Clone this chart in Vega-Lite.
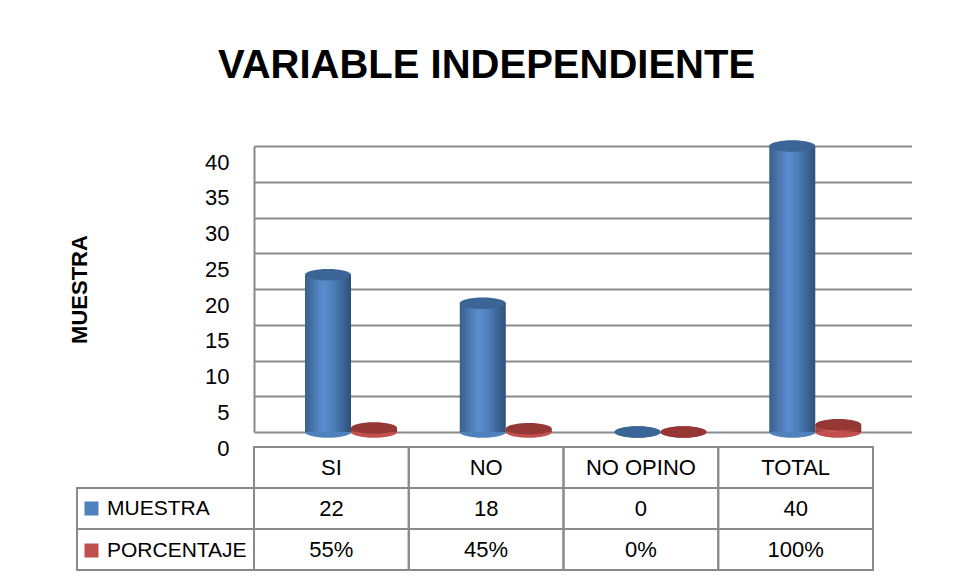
{
  "$schema": "https://vega.github.io/schema/vega-lite/v6.json",
  "autosize": {"type": "pad"},
  "padding": {"left": 68, "top": 46, "right": 0, "bottom": 0},
  "background": "white",
  "config": {
    "view": {"stroke": null},
    "font": "Liberation Sans"
  },
  "datasets": {
    "tabla": [
      {"categoria": "SI", "serie": "MUESTRA", "valor": 22},
      {"categoria": "SI", "serie": "PORCENTAJE", "valor": 0.55},
      {"categoria": "NO", "serie": "MUESTRA", "valor": 18},
      {"categoria": "NO", "serie": "PORCENTAJE", "valor": 0.45},
      {"categoria": "NO OPINO", "serie": "MUESTRA", "valor": 0},
      {"categoria": "NO OPINO", "serie": "PORCENTAJE", "valor": 0},
      {"categoria": "TOTAL", "serie": "MUESTRA", "valor": 40},
      {"categoria": "TOTAL", "serie": "PORCENTAJE", "valor": 1}
    ]
  },
  "columns": 2,
  "bounds": "flush",
  "spacing": {"row": 15, "column": 0},
  "concat": [
    {
      "width": 177,
      "height": 286,
      "data": {"values": [{}]},
      "mark": {"type": "text"},
      "encoding": {"text": {"value": ""}}
    },
    {
      "width": 658,
      "height": 286,
      "title": {
        "text": "VARIABLE INDEPENDIENTE",
        "font": "Liberation Sans",
        "fontSize": 40,
        "fontWeight": "bold",
        "color": "#000000",
        "anchor": "start",
        "frame": "group",
        "baseline": "alphabetic",
        "offset": 22,
        "dx": -36
      },
      "data": {"name": "tabla"},
      "encoding": {
        "x": {
          "field": "categoria",
          "type": "nominal",
          "sort": ["SI", "NO", "NO OPINO", "TOTAL"],
          "scale": {"paddingInner": 0, "paddingOuter": 0.126, "align": 0},
          "axis": null
        },
        "xOffset": {
          "field": "serie",
          "type": "nominal",
          "scale": {"domain": ["MUESTRA", "PORCENTAJE"], "paddingInner": 0, "paddingOuter": 0.682, "align": 0.813}
        },
        "y": {
          "field": "valor",
          "type": "quantitative",
          "scale": {"domain": [0, 40], "nice": false},
          "axis": {
            "values": [0, 5, 10, 15, 20, 25, 30, 35, 40],
            "title": "MUESTRA",
            "titleFontSize": 22,
            "titleFontWeight": "bold",
            "titleColor": "#000000",
            "titlePadding": 113,
            "labelFontSize": 22,
            "labelColor": "#000000",
            "labelPadding": 25,
            "labelOffset": 16,
            "ticks": false,
            "tickSize": 0,
            "domain": true,
            "domainColor": "#8a8a8a",
            "domainWidth": 2,
            "grid": true,
            "gridColor": "#8a8a8a",
            "gridWidth": 2
          }
        }
      },
      "layer": [
        {
          "mark": {"type": "point", "filled": true, "opacity": 1, "strokeWidth": 0, "size": 2116, "shape": "M-1,0A1,0.25,0,1,1,1,0A1,0.25,0,1,1,-1,0Z"},
          "encoding": {
            "y": {"datum": 0},
            "color": {
              "field": "serie",
              "type": "nominal",
              "scale": {"domain": ["MUESTRA", "PORCENTAJE"], "range": ["#4F81BD", "#C0504D"]},
              "legend": {
                "orient": "none",
                "legendX": 4,
                "legendY": 352,
                "title": null,
                "symbolType": "square",
                "symbolSize": 196,
                "symbolStrokeWidth": 0,
                "labelFontSize": 21,
                "labelColor": "#000000",
                "labelOffset": 5,
                "rowPadding": 20,
                "padding": 0
              }
            }
          }
        },
        {
          "transform": [{"filter": "datum.serie == 'MUESTRA'"}],
          "mark": {
            "type": "bar",
            "color": {
              "gradient": "linear", "x1": 0, "x2": 1, "y1": 0, "y2": 0,
              "stops": [
                {"offset": 0, "color": "#3A5F8D"},
                {"offset": 0.4, "color": "#5A8DCE"},
                {"offset": 0.6, "color": "#4F81BD"},
                {"offset": 1, "color": "#2F4F7A"}
              ]
            }
          }
        },
        {
          "transform": [{"filter": "datum.serie == 'PORCENTAJE'"}],
          "mark": {
            "type": "bar",
            "color": {
              "gradient": "linear", "x1": 0, "x2": 1, "y1": 0, "y2": 0,
              "stops": [
                {"offset": 0, "color": "#A43E3B"},
                {"offset": 0.4, "color": "#D65E5A"},
                {"offset": 1, "color": "#8E3230"}
              ]
            }
          }
        },
        {
          "transform": [{"filter": "datum.serie == 'MUESTRA'"}],
          "mark": {"type": "point", "filled": true, "opacity": 1, "strokeWidth": 0, "size": 2116, "color": "#3A6596", "shape": "M-1,0A1,0.25,0,1,1,1,0A1,0.25,0,1,1,-1,0Z"}
        },
        {
          "transform": [{"filter": "datum.serie == 'PORCENTAJE'"}],
          "mark": {"type": "point", "filled": true, "opacity": 1, "strokeWidth": 0, "size": 2116, "color": "#953735", "shape": "M-1,0A1,0.25,0,1,1,1,0A1,0.25,0,1,1,-1,0Z"}
        }
      ]
    },
    {
      "width": 177,
      "height": 123,
      "data": {"name": "tabla"},
      "transform": [{"filter": "datum.categoria == 'SI'"}],
      "mark": {"type": "bar", "fill": "white", "fillOpacity": 0, "stroke": "#8a8a8a", "strokeWidth": 2},
      "encoding": {
        "y": {
          "field": "serie",
          "type": "nominal",
          "scale": {"domain": ["header", "MUESTRA", "PORCENTAJE"], "paddingInner": 0, "paddingOuter": 0},
          "axis": null
        }
      }
    },
    {
      "width": 619,
      "height": 123,
      "data": {"name": "tabla"},
      "transform": [
        {"calculate": "datum.serie == 'PORCENTAJE' ? format(datum.valor, '.0%') : format(datum.valor, 'd')", "as": "texto"}
      ],
      "encoding": {
        "x": {
          "field": "categoria",
          "type": "nominal",
          "sort": ["SI", "NO", "NO OPINO", "TOTAL"],
          "scale": {"paddingInner": 0, "paddingOuter": 0},
          "axis": null
        },
        "y": {
          "field": "serie",
          "type": "nominal",
          "scale": {"domain": ["header", "MUESTRA", "PORCENTAJE"], "paddingInner": 0, "paddingOuter": 0},
          "axis": null
        }
      },
      "layer": [
        {
          "mark": {"type": "rect", "fill": "white", "fillOpacity": 0, "stroke": "#8a8a8a", "strokeWidth": 2}
        },
        {
          "transform": [{"filter": "datum.serie == 'MUESTRA'"}],
          "mark": {"type": "rect", "fill": "white", "fillOpacity": 0, "stroke": "#8a8a8a", "strokeWidth": 2},
          "encoding": {"y": {"datum": "header"}}
        },
        {
          "mark": {"type": "text", "fontSize": 22, "color": "#000000"},
          "encoding": {"text": {"field": "texto"}}
        },
        {
          "transform": [{"filter": "datum.serie == 'MUESTRA'"}],
          "mark": {"type": "text", "fontSize": 22, "color": "#000000"},
          "encoding": {"y": {"datum": "header"}, "text": {"field": "categoria"}}
        }
      ]
    }
  ]
}
